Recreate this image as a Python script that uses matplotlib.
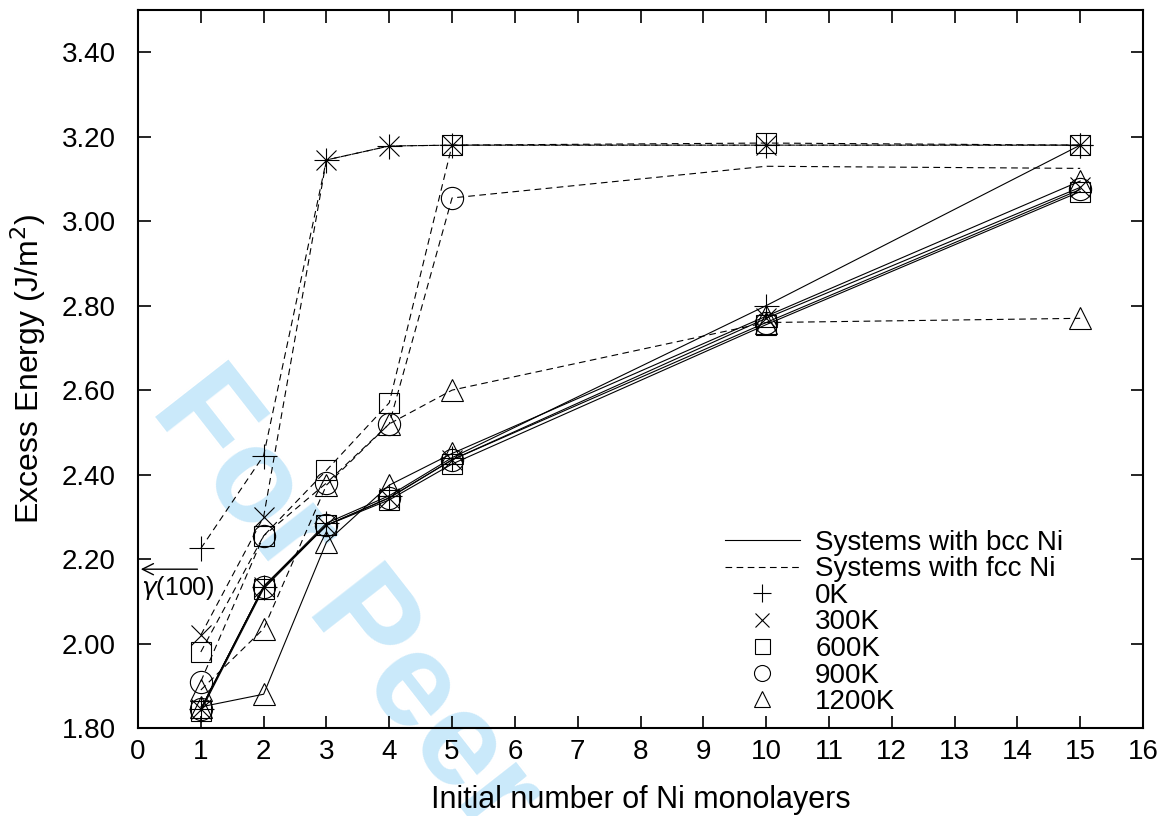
import matplotlib
matplotlib.use("Agg")
import matplotlib.pyplot as plt
from matplotlib.lines import Line2D

plt.rcParams['font.family'] = ['Liberation Sans', 'DejaVu Sans']

layers = [1, 2, 3, 4, 5, 10, 15]
temps = ['0K', '300K', '600K', '900K', '1200K']

bcc_0K    = [1.845, 2.135, 2.285, 2.350, 2.440, 2.800, 3.180]
bcc_300K  = [1.845, 2.135, 2.280, 2.345, 2.435, 2.770, 3.080]
bcc_600K  = [1.840, 2.130, 2.280, 2.340, 2.425, 2.755, 3.070]
bcc_900K  = [1.845, 2.135, 2.280, 2.345, 2.435, 2.760, 3.075]
bcc_1200K = [1.850, 1.880, 2.240, 2.375, 2.450, 2.775, 3.095]

fcc_0K    = [2.225, 2.445, 3.145, 3.178, 3.180, 3.180, 3.180]
fcc_300K  = [2.020, 2.300, 3.145, 3.178, 3.180, 3.180, 3.180]
fcc_600K  = [1.980, 2.255, 2.410, 2.570, 3.180, 3.185, 3.180]
fcc_900K  = [1.910, 2.255, 2.380, 2.520, 3.055, 3.130, 3.125]
fcc_1200K = [1.890, 2.035, 2.375, 2.520, 2.600, 2.760, 2.770]

gamma_100 = 2.176

bcc = [bcc_0K, bcc_300K, bcc_600K, bcc_900K, bcc_1200K]
fcc = [fcc_0K, fcc_300K, fcc_600K, fcc_900K, fcc_1200K]
markers = ['+', 'x', 's', 'o', '^']
msizes = [18, 14, 15, 16, 16]
fcc_markevery = [None, None, None, [0, 1, 2, 3, 4], None]

fig = plt.figure(figsize=(11.66, 8.16), dpi=100)
ax = fig.add_axes([138/1166, 1-728/816, (1143-138)/1166, (728-10)/816])

# watermark
ax.text(0.128, 0.498, 'For Peer', fontsize=97, fontweight='bold',
        color='#cae9fa', rotation=-52, rotation_mode='anchor',
        ha='left', va='baseline', zorder=0.5, transform=fig.transFigure,
        clip_on=False)

lw = 0.8
for vals, m, ms in zip(bcc, markers, msizes):
    ax.plot(layers, vals, color='black', lw=lw, ls='-', marker=m, ms=ms,
            mfc='none', mec='black', mew=0.8)
for vals, m, ms, me in zip(fcc, markers, msizes, fcc_markevery):
    ax.plot(layers, vals, color='black', lw=lw, ls=(0, (6, 4)), marker=m, ms=ms,
            mfc='none', mec='black', mew=0.8, markevery=me)

ax.set_xlim(0, 16)
ax.set_ylim(1.80, 3.50)
ax.set_xticks(range(0, 17))
yt = [1.8, 2.0, 2.2, 2.4, 2.6, 2.8, 3.0, 3.2, 3.4]
ax.set_yticks(yt)
ax.set_yticklabels([f'{v:.2f}' for v in yt])
ax.tick_params(direction='in', length=9, width=1.2, top=True, right=True,
               labelsize=20)
ax.tick_params(axis='y', pad=16)
ax.tick_params(axis='x', pad=8)
for s in ax.spines.values():
    s.set_linewidth(1.5)

ax.set_xlabel('Initial number of Ni monolayers', fontsize=22, labelpad=14)
ax.set_ylabel('Excess Energy (J/m$^2$)', fontsize=23, labelpad=10)

# gamma(100) annotation
ax.annotate('', xy=(0, gamma_100), xytext=(0.99, gamma_100),
            arrowprops=dict(arrowstyle='->', color='black', lw=1.0, mutation_scale=20))
ax.text(0.04, gamma_100 - 0.012, r'$\gamma$(100)', fontsize=18, va='top', ha='left')

handles = [Line2D([], [], color='black', lw=lw, ls='-'),
           Line2D([], [], color='black', lw=lw, ls=(0, (6, 4)))]
labels = ['Systems with bcc Ni', 'Systems with fcc Ni']
for t, m, ms in zip(temps, markers, msizes):
    handles.append(Line2D([], [], ls='none', marker=m, ms=ms*0.72, mfc='none',
                          mec='black', mew=0.8))
    labels.append(t)
leg = ax.legend(handles, labels, loc='lower left', bbox_to_anchor=(0.584, 0.018),
                frameon=False, fontsize=20, handlelength=2.7, handletextpad=0.55,
                labelspacing=0.02, borderaxespad=0.0, borderpad=0.0)

fig.savefig('out.png', dpi=100)
